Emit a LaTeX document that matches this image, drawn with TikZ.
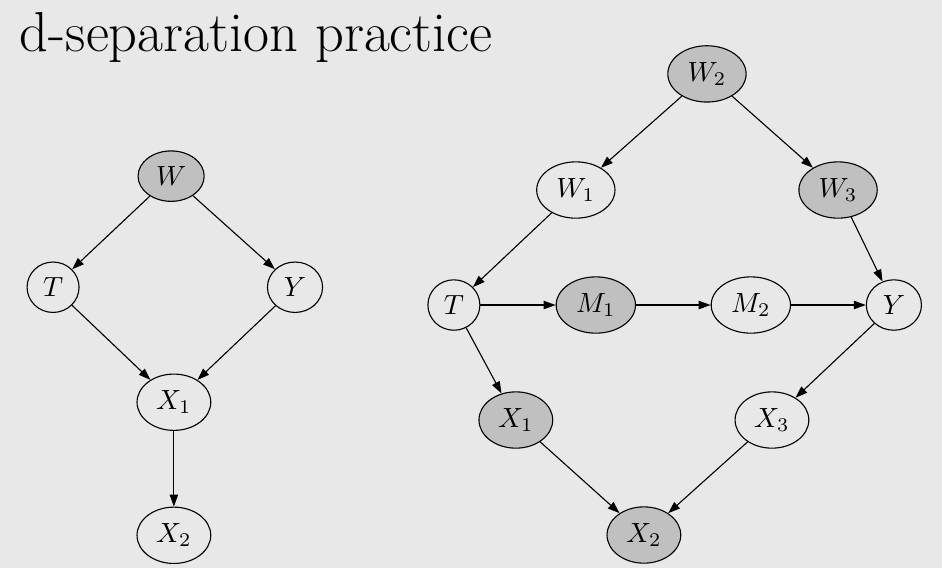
\documentclass[tikz,border=0pt]{standalone}
\usepackage{fontspec}
\usetikzlibrary{arrows.meta,positioning,shapes.geometric}
\definecolor{slidebg}{RGB}{232,232,232}
\definecolor{obsgray}{RGB}{192,192,192}

\begin{document}
\begin{tikzpicture}[>={Triangle[length=4.3pt,width=3pt]},on grid,
    var/.style={ellipse,draw,thin,inner sep=3pt},
    obs/.style={var,fill=obsgray}]

    \fill[slidebg] (0,0) rectangle (339.12pt,-204.48pt);
    \useasboundingbox (0,0) rectangle (339.12pt,-204.48pt);

    \node[anchor=base west,inner sep=0pt] (title) at (7.0pt,-18.6pt)
        {\fontsize{20.3}{24}\selectfont d-separation practice};

    % left graph
    \node[obs] (lw) at (61.6pt,-63.4pt) {$W$};
    \node[var] (lt) [below left=40pt and 42.5pt of lw] {$T$};
    \node[var] (ly) [below right=40pt and 44.6pt of lw] {$Y$};
    \node[var] (lx1) [below=81.4pt of lw,xshift=1pt] {$X_1$};
    \node[var] (lx2) [below=47.9pt of lx1] {$X_2$};

    \foreach \from/\to in {lw/lt, lw/ly, lt/lx1, ly/lx1, lx1/lx2}
        {
        \draw[->] (\from) -- (\to);
        }

    % right graph
    \node[obs] (w2) at (254.5pt,-26.6pt) {$W_2$};
    \node[var] (w1) [below left=41.8pt and 47.2pt of w2] {$W_1$};
    \node[obs] (w3) [below right=41.8pt and 47.2pt of w2] {$W_3$};
    \node[var] (t) [below left=41.4pt and 43.9pt of w1] {$T$};
    \node[obs] (m1) [right=51.1pt of t] {$M_1$};
    \node[var] (m2) [right=55.8pt of m1] {$M_2$};
    \node[var] (y) [right=51.5pt of m2] {$Y$};
    \node[obs] (x1) [below right=41.4pt and 22.3pt of t] {$X_1$};
    \node[var] (x3) [below left=41.4pt and 43.9pt of y] {$X_3$};
    \node[obs] (x2) [below right=41.4pt and 46.1pt of x1] {$X_2$};

    \foreach \from/\to in {w2/w1, w2/w3, w1/t, w3/y, t/m1, m1/m2, m2/y,
                           t/x1, y/x3, x1/x2, x3/x2}
        {
        \draw[->] (\from) -- (\to);
        }

\end{tikzpicture}
\end{document}
